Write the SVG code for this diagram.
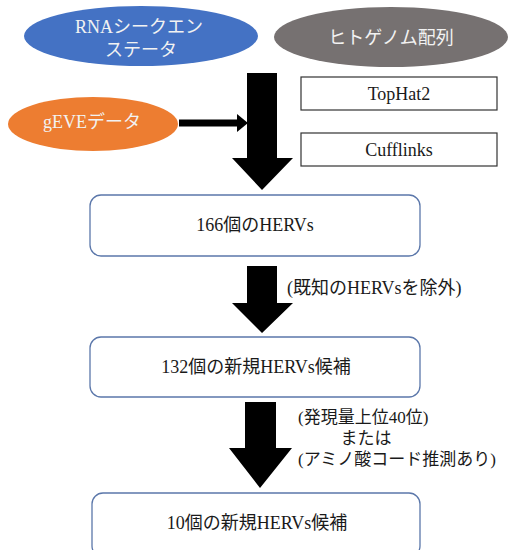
<svg xmlns="http://www.w3.org/2000/svg" width="519" height="550" viewBox="0 0 519 550">
<style>
text{font-family:"Liberation Serif","Noto Sans CJK JP",serif;font-size:18px;text-anchor:middle;dominant-baseline:central;fill:#1a1a1a}
.w{fill:#f2f2f2}
.lbl{text-anchor:start}
.sm{font-size:17px}
.box{fill:#fff;stroke:#5b77aa;stroke-width:1.3}
.tool{fill:#fff;stroke:#333;stroke-width:1.2}
.big{fill:#000}
</style>
<rect width="519" height="550" fill="#fff"/>
<g id="rna"><ellipse cx="141" cy="36" rx="117" ry="30" fill="#4472C4"/><text class="w" x="139" y="27">RNAシークエン</text><text class="w" x="141" y="50">ステータ</text></g>
<g id="genome"><ellipse cx="391" cy="37" rx="117" ry="30" fill="#767171"/><text class="w" x="391" y="38">ヒトゲノム配列</text></g>
<g id="geve"><ellipse cx="93" cy="124" rx="85" ry="27" fill="#ED7D31"/><text class="w" x="92" y="122">gEVEデータ</text></g>
<g id="tophat"><rect class="tool" x="301" y="77" width="196" height="33"/><text x="399" y="94">TopHat2</text></g>
<g id="cufflinks"><rect class="tool" x="301" y="133" width="196" height="33"/><text x="399" y="150">Cufflinks</text></g>
<g id="n166"><rect class="box" x="90" y="195" width="330" height="61" rx="11"/><text x="255" y="225">166個のHERVs</text></g>
<g id="n132"><rect class="box" x="90" y="337" width="330" height="60" rx="11"/><text x="256" y="367">132個の新規HERVs候補</text></g>
<g id="n10"><rect class="box" x="92" y="493" width="328" height="64" rx="11"/><text x="257" y="523">10個の新規HERVs候補</text></g>
<g id="connectors">
<polygon class="big" points="247,73 277,73 277,158 293,158 262,190 232,158 247,158"/>
<line x1="179" y1="123" x2="239" y2="123" stroke="#000" stroke-width="7"/>
<polygon class="big" points="237,114 248,123 237,132"/>
<polygon class="big" points="247,266 277,266 277,303 293,303 262,333 232,303 247,303"/>
<text class="lbl" x="287" y="288">(既知のHERVsを除外)</text>
<polygon class="big" points="245,402 276,402 276,448 292,448 260,488 229,448 245,448"/>
<text class="lbl sm" x="298" y="417">(発現量上位40位)</text>
<text class="sm" x="366" y="438">または</text>
<text class="lbl sm" x="298" y="459">(アミノ酸コード推測あり)</text>
</g>
</svg>
